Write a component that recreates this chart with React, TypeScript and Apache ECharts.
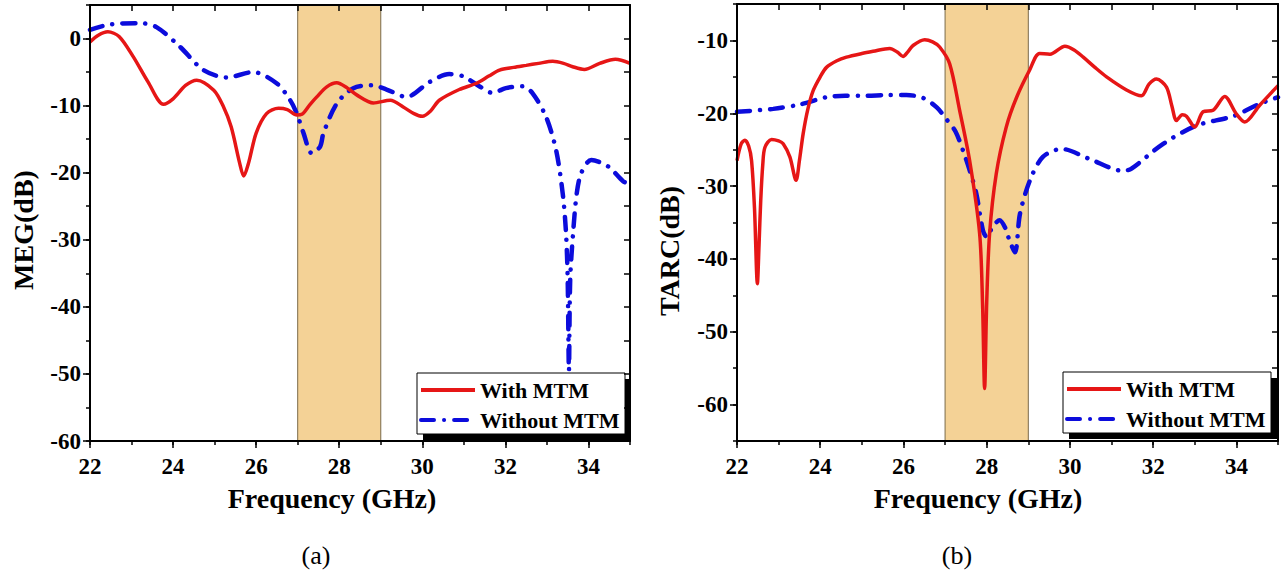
import React, { useEffect, useRef } from 'react';
import * as echarts from 'echarts';

const FONT = '"Liberation Serif", "Times New Roman", serif';

// x axis (GHz)
const freqMin = 22;
const freqMax = 35;
const xTickLabels = [22, 24, 26, 28, 30, 32, 34];
const bandStart = 27;
const bandEnd = 29;

// y axes
const megMin = -60;
const megMax = 5;
const megTickLabels = [-60, -50, -40, -30, -20, -10, 0];
const tarcMin = -65;
const tarcMax = -5;
const tarcTickLabels = [-60, -50, -40, -30, -20, -10];

const seriesNames = ['With MTM', 'Without MTM'];

// (a) MEG, With MTM  [GHz, dB]
const megWithMTM = [
  [22.0, -0.5], [22.2, 0.5], [22.43, 1.0], [22.7, 0.3], [23.04, -2.7], [23.4, -6.5], [23.77, -9.8],
  [24.0, -9.0], [24.3, -7.0], [24.57, -6.2], [24.98, -7.7], [25.2, -10.0], [25.4, -13.2], [25.6, -18.5],
  [25.7, -20.5], [25.82, -18.5], [26.0, -14.1], [26.25, -11.2], [26.54, -10.4], [26.75, -10.6],
  [26.98, -11.4], [27.1, -11.3], [27.3, -9.8], [27.46, -8.7], [27.7, -7.2], [27.94, -6.6], [28.2, -7.4],
  [28.42, -8.4], [28.82, -9.6], [29.23, -9.2], [29.54, -10.2], [29.8, -11.2], [30.0, -11.6], [30.2, -10.8],
  [30.41, -9.2], [30.89, -7.6], [31.29, -6.7], [31.6, -5.6], [31.86, -4.7], [32.2, -4.3], [32.5, -4.0],
  [32.8, -3.7], [33.14, -3.4], [33.4, -3.7], [33.62, -4.2], [33.9, -4.6], [34.27, -3.7], [34.65, -3.1],
  [35.0, -3.7],
];

// (a) MEG, Without MTM
const megWithoutMTM = [
  [22.0, 1.3], [22.48, 2.1], [23.2, 2.3], [23.6, 1.7], [24.17, -1.25], [24.73, -4.7], [25.29, -5.8],
  [25.93, -5.0], [26.5, -6.7], [26.82, -9.2], [26.98, -11.2], [27.14, -14.1], [27.34, -17.1],
  [27.54, -16.1], [27.62, -14.1], [27.94, -9.7], [28.34, -7.4], [28.78, -6.95], [29.14, -7.6],
  [29.62, -8.7], [30.17, -6.5], [30.65, -5.3], [30.97, -5.6], [31.37, -7.1], [31.69, -8.1],
  [32.01, -7.4], [32.42, -7.1], [32.66, -8.2], [32.98, -11.7], [33.22, -16.6], [33.38, -23.1],
  [33.46, -29.0], [33.5, -36.0], [33.53, -49.5], [33.56, -36.0], [33.63, -29.0], [33.72, -23.0],
  [33.83, -20.0], [34.07, -18.1], [34.48, -19.1], [34.84, -21.3], [35.0, -21.6],
];

// (b) TARC, With MTM
const tarcWithMTM = [
  [22.0, -26.5], [22.1, -24.2], [22.19, -23.7], [22.28, -24.5], [22.35, -26.5], [22.42, -33.0],
  [22.49, -43.4], [22.53, -38.0], [22.57, -32.0], [22.62, -27.0], [22.67, -24.7], [22.83, -23.6],
  [23.0, -23.8], [23.11, -24.2], [23.27, -26.0], [23.42, -29.2], [23.5, -26.5], [23.59, -22.8],
  [23.7, -19.5], [23.83, -16.9], [24.0, -15.0], [24.15, -13.7], [24.4, -12.8], [24.63, -12.3],
  [25.0, -11.8], [25.27, -11.5], [25.67, -11.1], [25.85, -11.6], [25.99, -12.2], [26.1, -11.6],
  [26.23, -10.7], [26.51, -9.9], [26.7, -10.2], [26.87, -10.9], [27.11, -13.2], [27.35, -19.6],
  [27.59, -26.5], [27.83, -36.5], [27.9, -46.0], [27.95, -57.8], [28.0, -46.0], [28.07, -36.5],
  [28.23, -28.3], [28.47, -21.9], [28.72, -17.8], [29.03, -14.1], [29.27, -11.8], [29.52, -11.9],
  [29.88, -10.8], [30.1, -11.3], [30.32, -12.3], [30.6, -13.7], [30.88, -15.0], [31.36, -16.8],
  [31.72, -17.6], [31.9, -16.0], [32.08, -15.3], [32.32, -16.4], [32.45, -19.0], [32.56, -21.0],
  [32.7, -20.2], [32.8, -20.4], [33.0, -21.9], [33.2, -19.8], [33.44, -19.6], [33.72, -17.7],
  [34.0, -20.1], [34.2, -21.2], [34.56, -18.9], [35.0, -16.2],
];

// (b) TARC, Without MTM
const tarcWithoutMTM = [
  [22.0, -19.8], [22.87, -19.4], [23.51, -18.8], [24.15, -17.8], [24.6, -17.6], [25.11, -17.6],
  [25.6, -17.5], [26.07, -17.5], [26.47, -17.9], [26.8, -19.2], [27.03, -20.8], [27.25, -22.5],
  [27.43, -25.1], [27.6, -28.0], [27.75, -31.0], [27.91, -36.1], [28.0, -37.0], [28.15, -35.5],
  [28.31, -34.7], [28.45, -35.8], [28.55, -37.5], [28.68, -39.1], [28.8, -33.8], [29.04, -29.2],
  [29.35, -26.0], [29.8, -24.9], [30.48, -26.3], [31.27, -27.9], [31.48, -27.6], [32.24, -24.2],
  [33.04, -21.7], [33.92, -20.4], [34.56, -18.7], [35.0, -17.8],
];

const RED = '#e61616';
const BLUE = '#0c0cdc';
const BAND = '#f4d296';

function xAxesFor(grid: number) {
  const common = { type: 'value', gridIndex: grid, min: freqMin, max: freqMax, interval: 1, z: 6, splitLine: { show: false } };
  return [
    {
      ...common, position: 'bottom',
      axisLine: { show: true, onZero: false, lineStyle: { color: '#000', width: 2 } },
      axisTick: { show: true, inside: false, length: 4, lineStyle: { color: '#000', width: 1.5 } },
      axisLabel: { show: true, customValues: xTickLabels, margin: 14, color: '#000', fontSize: 23, fontWeight: 'bold', fontFamily: FONT },
    },
    {
      ...common, position: 'bottom',
      axisLine: { show: false, onZero: false },
      axisTick: { show: true, inside: false, length: 7, customValues: xTickLabels, lineStyle: { color: '#000', width: 1.5 } },
      axisLabel: { show: false },
    },
    {
      ...common, position: 'top',
      axisLine: { show: true, onZero: false, lineStyle: { color: '#000', width: 2 } },
      axisTick: { show: true, inside: true, length: 6, lineStyle: { color: '#000', width: 1.5 } },
      axisLabel: { show: false },
    },
  ];
}

function yAxesFor(grid: number, min: number, max: number, labels: number[]) {
  const common = { type: 'value', gridIndex: grid, min, max, interval: 5, z: 6, splitLine: { show: false } };
  return [
    {
      ...common, position: 'left',
      axisLine: { show: true, onZero: false, lineStyle: { color: '#000', width: 2 } },
      axisTick: { show: true, inside: false, length: 4, lineStyle: { color: '#000', width: 1.5 } },
      axisLabel: { show: true, customValues: labels, margin: 9, color: '#000', fontSize: 23, fontWeight: 'bold', fontFamily: FONT },
    },
    {
      ...common, position: 'left',
      axisLine: { show: false, onZero: false },
      axisTick: { show: true, inside: false, length: 7, customValues: labels, lineStyle: { color: '#000', width: 1.5 } },
      axisLabel: { show: false },
    },
    {
      ...common, position: 'right',
      axisLine: { show: true, onZero: false, lineStyle: { color: '#000', width: 2 } },
      axisTick: { show: true, inside: true, length: 6, lineStyle: { color: '#000', width: 1.5 } },
      axisLabel: { show: false },
    },
  ];
}

function chartSeries(axisIndex: number, withData: number[][], withoutData: number[][]) {
  return [
    {
      name: 'band', type: 'line', data: [], xAxisIndex: axisIndex, yAxisIndex: axisIndex, z: 1,
      markArea: {
        silent: true,
        itemStyle: { color: BAND, borderColor: '#7a6a4a', borderWidth: 1 },
        data: [[{ xAxis: bandStart }, { xAxis: bandEnd }]],
      },
    },
    {
      name: seriesNames[1], type: 'line', data: withoutData, xAxisIndex: axisIndex, yAxisIndex: axisIndex,
      symbol: 'none', smooth: 0.3, z: 2,
      lineStyle: { color: BLUE, width: 4.5, type: [13, 10, 0.1, 10], cap: 'round' },
      itemStyle: { color: BLUE },
    },
    {
      name: seriesNames[0], type: 'line', data: withData, xAxisIndex: axisIndex, yAxisIndex: axisIndex,
      symbol: 'none', smooth: 0.3, z: 2,
      lineStyle: { color: RED, width: 3.5 },
      itemStyle: { color: RED },
    },
  ];
}

function legendFor(left: number, top: number) {
  return {
    data: seriesNames, orient: 'vertical', left, top, padding: 0, itemGap: 8,
    itemWidth: 54, itemHeight: 4, z: 8, selectedMode: false,
    lineStyle: { width: 4 },
    itemStyle: { opacity: 0 },
    textStyle: { color: '#000', fontSize: 22, fontWeight: 'bold', fontFamily: FONT },
  };
}

function legendBox(x: number, y: number) {
  return [
    { type: 'rect', z: 4, shape: { x: x + 6, y: y + 6, width: 208, height: 61 }, style: { fill: '#000' } },
    { type: 'rect', z: 5, shape: { x, y, width: 208, height: 61 }, style: { fill: '#fff', stroke: '#000', lineWidth: 1 } },
  ];
}

function label(text: string, x: number, y: number, size: number, bold: boolean, rotation = 0) {
  return {
    type: 'text', x, y, rotation, z: 8,
    style: {
      text, fill: '#000', fontSize: size, fontWeight: bold ? 'bold' : 'normal', fontFamily: FONT,
      textAlign: 'center', textVerticalAlign: 'middle', align: 'center', verticalAlign: 'middle',
    },
  };
}

export default function App() {
  const ref = useRef<HTMLDivElement>(null);
  useEffect(() => {
    if (!ref.current) return;
    const chart = echarts.init(ref.current, undefined, { renderer: 'svg' });
    chart.setOption({
      animation: false,
      backgroundColor: '#fff',
      textStyle: { fontFamily: FONT },
      grid: [
        { left: 90, top: 5, width: 540, height: 436, outerBoundsMode: 'none', containLabel: false },
        { left: 737, top: 4, width: 541, height: 437, outerBoundsMode: 'none', containLabel: false },
      ],
      xAxis: [...xAxesFor(0), ...xAxesFor(1)],
      yAxis: [...yAxesFor(0, megMin, megMax, megTickLabels), ...yAxesFor(1, tarcMin, tarcMax, tarcTickLabels)],
      legend: [legendFor(419, 379), legendFor(1065, 378)],
      series: [
        ...chartSeries(0, megWithMTM, megWithoutMTM),
        ...chartSeries(3, tarcWithMTM, tarcWithoutMTM),
      ],
      graphic: [
        ...legendBox(417, 373),
        ...legendBox(1063, 372),
        label('MEG(dB)', 23, 230, 28, true, Math.PI / 2),
        label('TARC(dB)', 669, 251, 28, true, Math.PI / 2),
        label('Frequency (GHz)', 332, 498, 28, true),
        label('Frequency (GHz)', 978, 498, 28, true),
        label('(a)', 316, 555, 26, false),
        label('(b)', 957, 555, 26, false),
      ],
    });
    return () => chart.dispose();
  }, []);
  return (
    <div
      ref={ref}
      style={{ position: 'fixed', left: 0, top: 0, width: 1282, height: 575, background: '#fff' }}
    />
  );
}
